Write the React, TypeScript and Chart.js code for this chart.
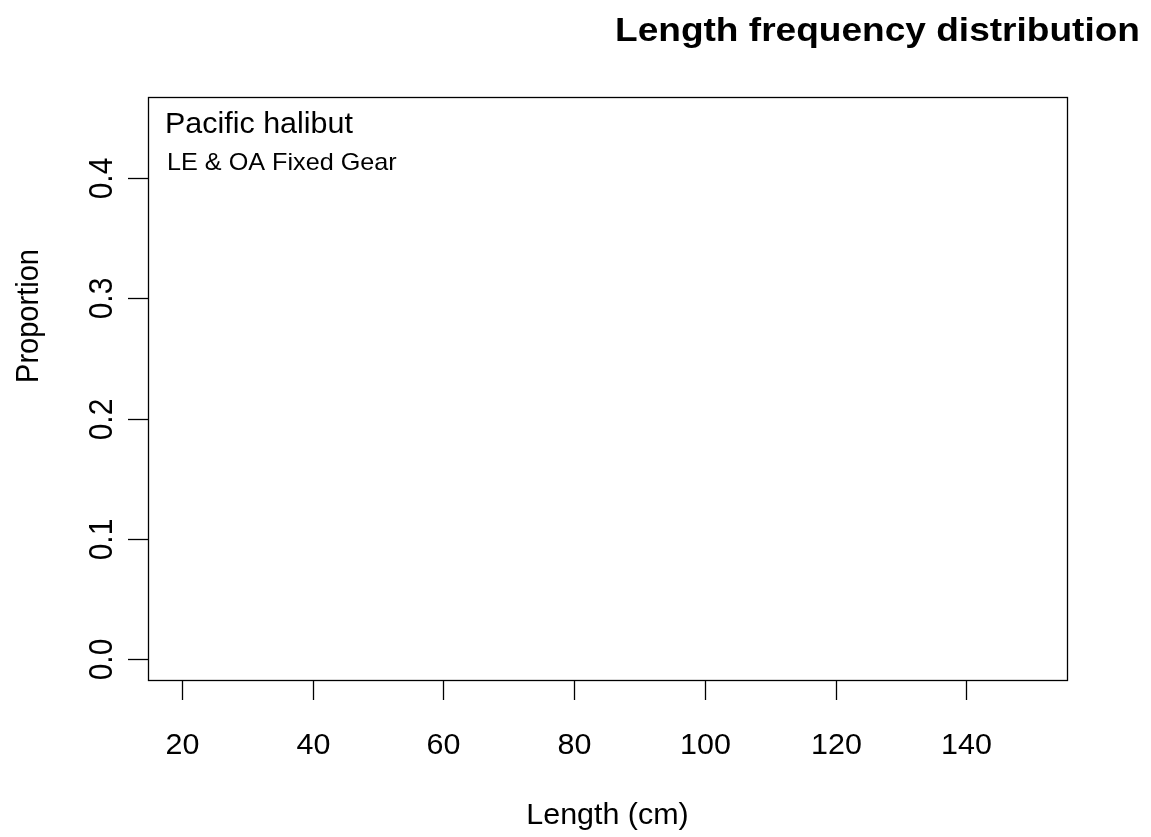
import React, { useEffect, useRef } from "react";
import { Chart, registerables } from "chart.js";

Chart.register(...registerables);

// Data (the reference panel has no observations plotted)
const lengthBins: number[] = [];
const proportions: number[] = [];
const xTickValues = [20, 40, 60, 80, 100, 120, 140];
const yTickValues = [0.0, 0.1, 0.2, 0.3, 0.4];
const yTickLabels = ["0.0", "0.1", "0.2", "0.3", "0.4"];
const titleText = "Length frequency distribution";
const speciesText = "Pacific halibut";
const fleetText = "LE & OA Fixed Gear";
const xAxisTitle = "Length (cm)";
const yAxisTitle = "Proportion";

const FONT = "'Liberation Sans', Arial, Helvetica, sans-serif";
const SX = 1.05;

function drawText(
  ctx: CanvasRenderingContext2D,
  text: string,
  x: number,
  y: number,
  font: string,
  align: CanvasTextAlign,
  rot = 0,
  sx = SX
) {
  ctx.save();
  ctx.font = font;
  ctx.textAlign = align;
  ctx.textBaseline = "alphabetic";
  ctx.translate(x, y);
  ctx.scale(sx, 1);
  if (rot) ctx.rotate(rot);
  ctx.fillText(text, 0, 0);
  ctx.restore();
}

const rPlotPlugin = {
  id: "rPlot",
  afterDraw(chart: any) {
    const ctx = chart.ctx as CanvasRenderingContext2D;
    const area = chart.chartArea;
    const xs = chart.scales.x;
    const ys = chart.scales.y;
    ctx.save();
    ctx.strokeStyle = "#000";
    ctx.fillStyle = "#000";
    ctx.lineWidth = 1.3;

    // box
    ctx.strokeRect(
      Math.round(area.left) + 0.5,
      Math.round(area.top) + 0.5,
      Math.round(area.right - area.left),
      Math.round(area.bottom - area.top)
    );

    // x ticks
    xTickValues.forEach((v) => {
      const px = Math.round(xs.getPixelForValue(v)) + 0.5;
      ctx.beginPath();
      ctx.moveTo(px, area.bottom);
      ctx.lineTo(px, area.bottom + 20);
      ctx.stroke();
      drawText(ctx, String(v), px, 753.5, `29px ${FONT}`, "center");
    });

    // y ticks
    yTickValues.forEach((v, i) => {
      const py = Math.round(ys.getPixelForValue(v)) + 0.5;
      ctx.beginPath();
      ctx.moveTo(area.left, py);
      ctx.lineTo(area.left - 20, py);
      ctx.stroke();
      drawText(ctx, yTickLabels[i], 112, py, `30px ${FONT}`, "center", -Math.PI / 2, 1.1);
    });

    // axis titles
    drawText(ctx, xAxisTitle, (area.left + area.right) / 2, 824, `29px ${FONT}`, "center");
    drawText(ctx, yAxisTitle, 38, 316, `29px ${FONT}`, "center", -Math.PI / 2, 1.1);

    // in-panel labels
    drawText(ctx, speciesText, 165, 133, `29px ${FONT}`, "left");
    drawText(ctx, fleetText, 167, 170, `24px ${FONT}`, "left");

    // title (right aligned, stretched like the original)
    ctx.font = `bold 33px ${FONT}`;
    const w = ctx.measureText(titleText).width;
    const target = 525;
    drawText(ctx, titleText, 1140 - target, 41, `bold 33px ${FONT}`, "left", 0, target / w);

    ctx.restore();
  },
};

export default function App() {
  const ref = useRef<HTMLCanvasElement | null>(null);
  useEffect(() => {
    if (!ref.current) return;
    const chart = new Chart(ref.current, {
      type: "scatter",
      data: {
        datasets: [
          {
            label: speciesText,
            data: lengthBins.map((x, i) => ({ x, y: proportions[i] })),
            showLine: true,
            borderColor: "#000",
            backgroundColor: "#000",
            pointRadius: 0,
          },
        ],
      },
      options: {
        animation: false,
        responsive: false,
        devicePixelRatio: 1,
        layout: { padding: { left: 148, top: 97, right: 84, bottom: 157 } },
        plugins: { legend: { display: false }, tooltip: { enabled: false }, title: { display: false } },
        scales: {
          x: { type: "linear", min: 14.8, max: 155.4, display: false },
          y: { type: "linear", min: -0.0172, max: 0.4674, display: false },
        },
      },
      plugins: [rPlotPlugin],
    });
    return () => chart.destroy();
  }, []);
  return (
    <div style={{ position: "absolute", left: 0, top: 0, width: 1151, height: 837, background: "#fff" }}>
      <canvas ref={ref} width={1151} height={837} style={{ display: "block" }} />
    </div>
  );
}
